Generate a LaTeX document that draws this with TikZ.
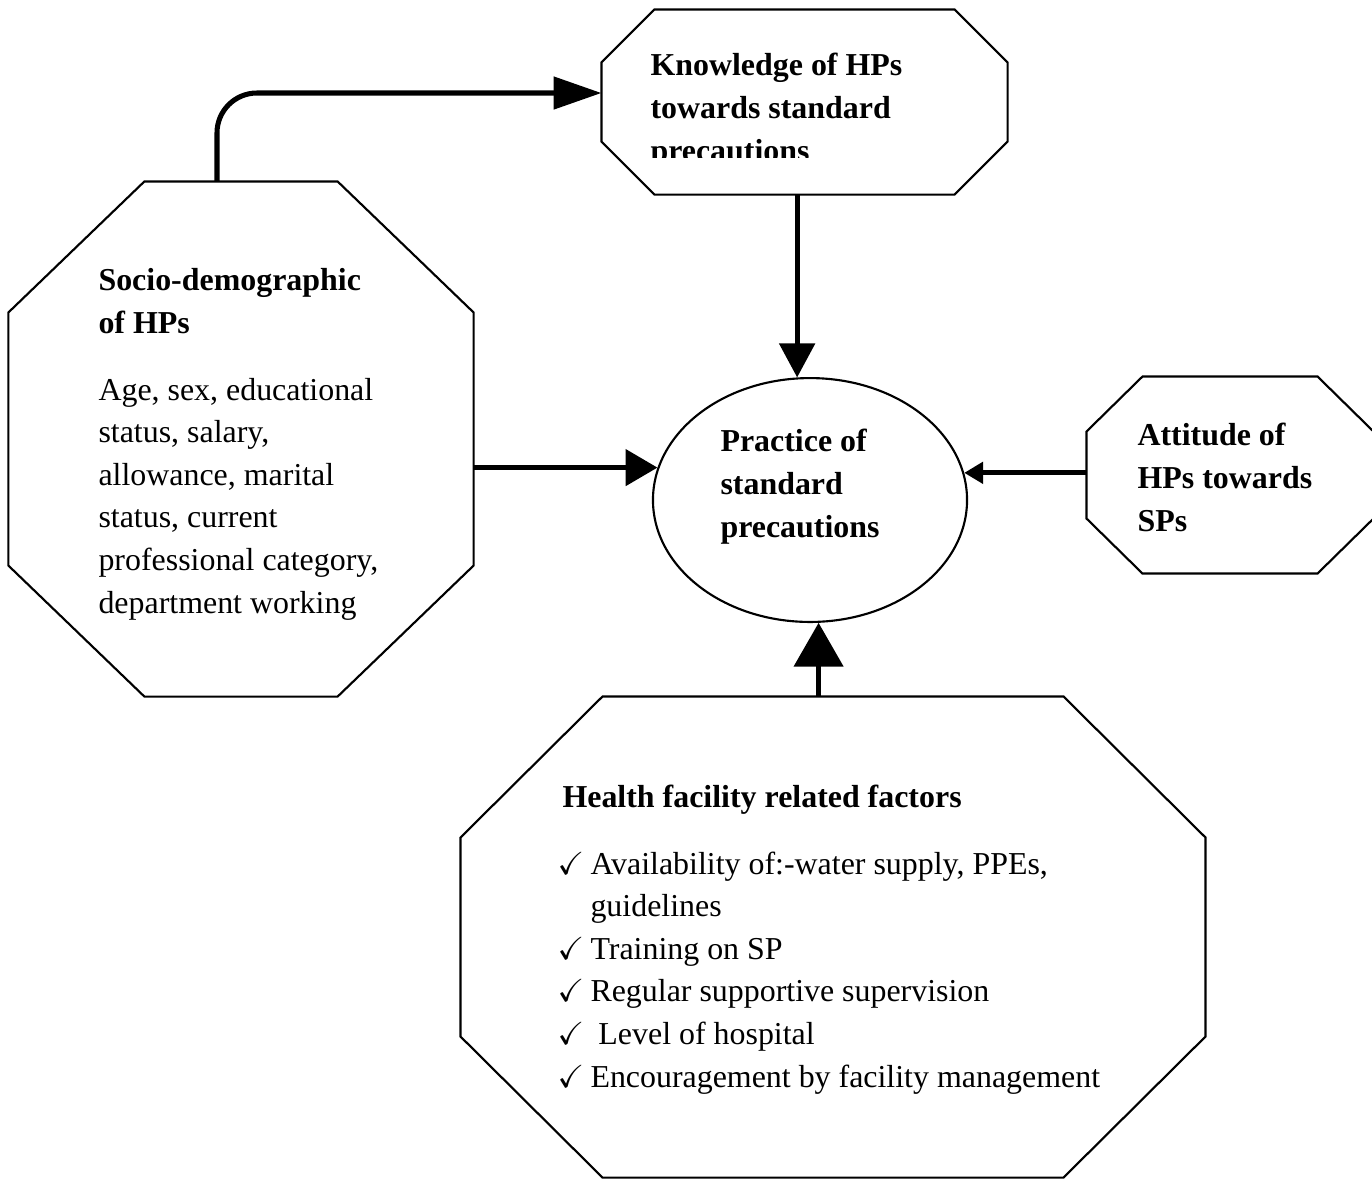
\documentclass[tikz,border=0pt]{standalone}
\usepackage{amssymb}
\usepackage{fontspec}
\setmainfont{Liberation Serif}
\usetikzlibrary{arrows.meta, positioning, calc, shapes.geometric}
\tikzset{
  box/.style={rectangle, inner sep=0pt},
  lbl/.style={anchor=base west, inner sep=0pt, align=left, font=\fontsize{12}{16}\selectfont},
  head/.style={lbl, font=\fontsize{12}{16}\selectfont\bfseries},
  link/.style 2 args={line width=1.9pt, -{Triangle[length=#1, width=#2]}}
}
\newcommand{\chk}{\makebox[12.4pt][l]{$\checkmark$}}
% octagon round a named box: #1 node, #2 corner cut in x, #3 corner cut in y
\newcommand{\octabox}[3]{%
  \draw[line width=0.8pt] ($(#1.north west)+(#2,0)$) -- ($(#1.north east)+(-#2,0)$)
    -- ($(#1.north east)+(0,#3)$) -- ($(#1.south east)+(0,-#3)$)
    -- ($(#1.south east)+(-#2,0)$) -- ($(#1.south west)+(#2,0)$)
    -- ($(#1.south west)+(0,-#3)$) -- ($(#1.north west)+(0,#3)$) -- cycle;}

\begin{document}
\begin{tikzpicture}[x=0.376pt, y=-0.376pt]
  \useasboundingbox (0,0) rectangle (1372,1179);
  % boxes
  \node[box, minimum width=152.3pt, minimum height=69.2pt] (know) at (804.5,102) {};
  \node[box, minimum width=174.5pt, minimum height=193.3pt] (socio) at (241,439) {};
  \node[box, minimum width=107.5pt, minimum height=73.7pt] (att) at (1230,475) {};
  \node[box, minimum width=279.7pt, minimum height=180.5pt] (hf) at (833,937) {};
  \octabox{know}{53}{53}
  \octabox{socio}{136}{131}
  \octabox{att}{56}{55}
  \octabox{hf}{142}{141}
  \node[ellipse, draw, line width=0.8pt, minimum width=118.1pt, minimum height=91.7pt] (practice) at (810,500) {};

  % texts (anchored at the baseline of the last line)
  \begin{scope}
    \clip (602,10) rectangle (1007,157);
    \node[head] (knowtxt) at (650,161) {Knowledge of HPs\\towards standard\\precautions};
  \end{scope}
  \node[head] (sociohead) at (98,333) {Socio-demographic\\of HPs};
  \node[lbl] (sociotxt) at (98,613) {Age, sex, educational\\status, salary,\\allowance, marital\\status, current\\professional category,\\department working};
  \node[head] (practxt) at (720,537) {Practice of\\standard\\precautions};
  \node[head] (atttxt) at (1137,531) {Attitude of\\HPs towards\\SPs};
  \node[head] (hfhead) at (562,807) {Health facility related factors};
  \node[lbl] (hflist) at (557,1087) {\chk Availability of:-water supply, PPEs,\\
    \hspace*{12.4pt}guidelines\\
    \chk Training on SP\\
    \chk Regular supportive supervision\\
    \chk\ Level of hospital\\
    \chk Encouragement by facility management};

  % arrows
  \draw[link={18pt}{12pt}, rounded corners=15pt] ($(socio.north)+(-24,0)$) |- ($(know.west)+(0,-9)$);
  \draw[link={12.8pt}{13.2pt}] (practice.96 |- know.south) -- (practice.96);
  \draw[link={12pt}{13.5pt}] (socio.east |- practice.168) -- (practice.168);
  \draw[link={7.1pt}{7.9pt}] (att.west |- practice.10) -- (practice.10);
  \draw[link={16.5pt}{18.4pt}] (practice.274 |- hf.north) -- (practice.274);
\end{tikzpicture}
\end{document}
